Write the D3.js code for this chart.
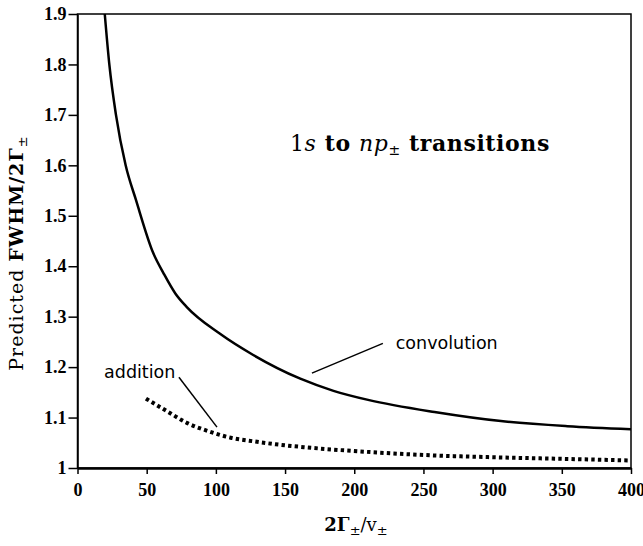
<!DOCTYPE html>
<html>
<head>
<meta charset="utf-8">
<script src="https://cdn.jsdelivr.net/npm/d3@7"></script>
<style>
  body { margin: 0; background: #fff; }
  svg { display: block; }
</style>
</head>
<body>
<svg id="chart" width="643" height="546"></svg>
<script>
// values
var convX = [19.7, 23, 27.8, 34.8, 42.3, 54.9, 62.2, 70.7, 79, 103, 127, 161, 185, 210, 258, 306, 354, 400];
var convY = [1.9, 1.8, 1.7, 1.6, 1.531, 1.425, 1.386, 1.346, 1.319, 1.266, 1.224, 1.177, 1.153, 1.135, 1.111, 1.093, 1.083, 1.077];
var addX = [49.5, 64.4, 79.4, 94.5, 110.7, 127, 143.2, 164.9, 209, 257, 305, 353, 398];
var addY = [1.1375, 1.113, 1.089, 1.073, 1.06, 1.053, 1.047, 1.041, 1.032, 1.025, 1.021, 1.018, 1.015];
var xTicks = [0, 50, 100, 150, 200, 250, 300, 350, 400];
var yTicks = [1, 1.1, 1.2, 1.3, 1.4, 1.5, 1.6, 1.7, 1.8, 1.9];

var margin = {left: 77.5, top: 14, right: 12, bottom: 78};
var W = 643, H = 546;
var w = W - margin.left - margin.right, h = H - margin.top - margin.bottom;

var svg = d3.select("#chart");
var g = svg.append("g").attr("transform", "translate(" + margin.left + "," + margin.top + ")");

var x = d3.scaleLinear().domain([0, 400]).range([0, w]);
var y = d3.scaleLinear().domain([1, 1.9]).range([h, 0]);

// frame
g.append("rect").attr("x", 0).attr("y", 0).attr("width", w).attr("height", h)
    .attr("fill", "none").attr("stroke", "#000").attr("stroke-width", 1.5);

var xAxis = g.append("g").attr("transform", "translate(0," + h + ")")
    .call(d3.axisBottom(x).tickValues(xTicks).tickSize(6).tickPadding(9).tickSizeOuter(0));
var yAxis = g.append("g")
    .call(d3.axisLeft(y).tickValues(yTicks).tickSize(9).tickPadding(2).tickSizeOuter(0)
        .tickFormat(function (d) { return String(+d.toFixed(1)); }));

[xAxis, yAxis].forEach(function (a) {
    a.attr("font-family", "'Liberation Serif', 'Times New Roman', Times, serif")
        .attr("font-size", 18).attr("font-weight", "bold");
    a.select(".domain").attr("stroke-width", 1.5);
    a.selectAll(".tick line").attr("stroke-width", 1.5);
    a.selectAll(".tick text").attr("fill", "#000");
});
xAxis.select(".domain").attr("stroke-width", 2.5);

// curves
var line = d3.line().x(function (d) { return x(d[0]); }).y(function (d) { return y(d[1]); })
    .curve(d3.curveMonotoneX);
var conv = convX.map(function (v, i) { return [v, convY[i]]; });
var add = addX.map(function (v, i) { return [v, addY[i]]; });

g.append("path").datum(conv).attr("d", line)
    .attr("fill", "none").attr("stroke", "#000").attr("stroke-width", 2.5);
g.append("path").datum(add).attr("d", line)
    .attr("fill", "none").attr("stroke", "#000").attr("stroke-width", 4)
    .attr("stroke-dasharray", "3.4,3.2");

// annotations
var sans = "'DejaVu Sans', Verdana, sans-serif";
g.append("text").attr("x", x(230)).attr("y", y(1.235)).text("convolution")
    .style("font-family", sans).style("font-size", "17.5px");
g.append("line").attr("x1", x(220.7)).attr("y1", y(1.247)).attr("x2", x(169.4)).attr("y2", y(1.188))
    .attr("stroke", "#000").attr("stroke-width", 1.5);
g.append("text").attr("x", x(19.2)).attr("y", y(1.1776)).text("addition")
    .style("font-family", sans).style("font-size", "17.5px");
g.append("line").attr("x1", x(73.3)).attr("y1", y(1.18)).attr("x2", x(100.8)).attr("y2", y(1.081))
    .attr("stroke", "#000").attr("stroke-width", 1.5);

// title inside plot
var serif = "'DejaVu Serif', 'Liberation Serif', serif";
var t = g.append("text").attr("x", x(153.5)).attr("y", y(1.628))
    .style("font-family", serif).style("font-size", "22px").style("letter-spacing", "0.6px");
t.append("tspan").text("1");
t.append("tspan").style("font-style", "italic").text("s");
t.append("tspan").style("font-weight", "bold").text(" to ");
t.append("tspan").style("font-style", "italic").text("np");
t.append("tspan").attr("dy", 4).style("font-size", "14px").text("\u00b1");
t.append("tspan").attr("dy", -4).style("font-weight", "bold").text(" transitions");

// axis titles
var xt = svg.append("text").attr("x", 356).attr("y", 531).attr("text-anchor", "middle")
    .style("font-family", serif).style("font-size", "18px");
xt.append("tspan").style("font-weight", "bold").text("2\u0393");
xt.append("tspan").attr("dy", 4).style("font-size", "13px").text("\u00b1");
xt.append("tspan").attr("dy", -4).text("/v");
xt.append("tspan").attr("dy", 4).style("font-size", "13px").text("\u00b1");

var yt = svg.append("text").attr("transform", "translate(23,253) rotate(-90)").attr("text-anchor", "middle")
    .style("font-family", serif).style("font-size", "19px").style("letter-spacing", "1px");
yt.append("tspan").text("Predicted ");
yt.append("tspan").style("font-weight", "bold").text("FWHM/2\u0393");
yt.append("tspan").attr("dy", 4).style("font-size", "13px").text("\u00b1");
</script>
</body>
</html>
